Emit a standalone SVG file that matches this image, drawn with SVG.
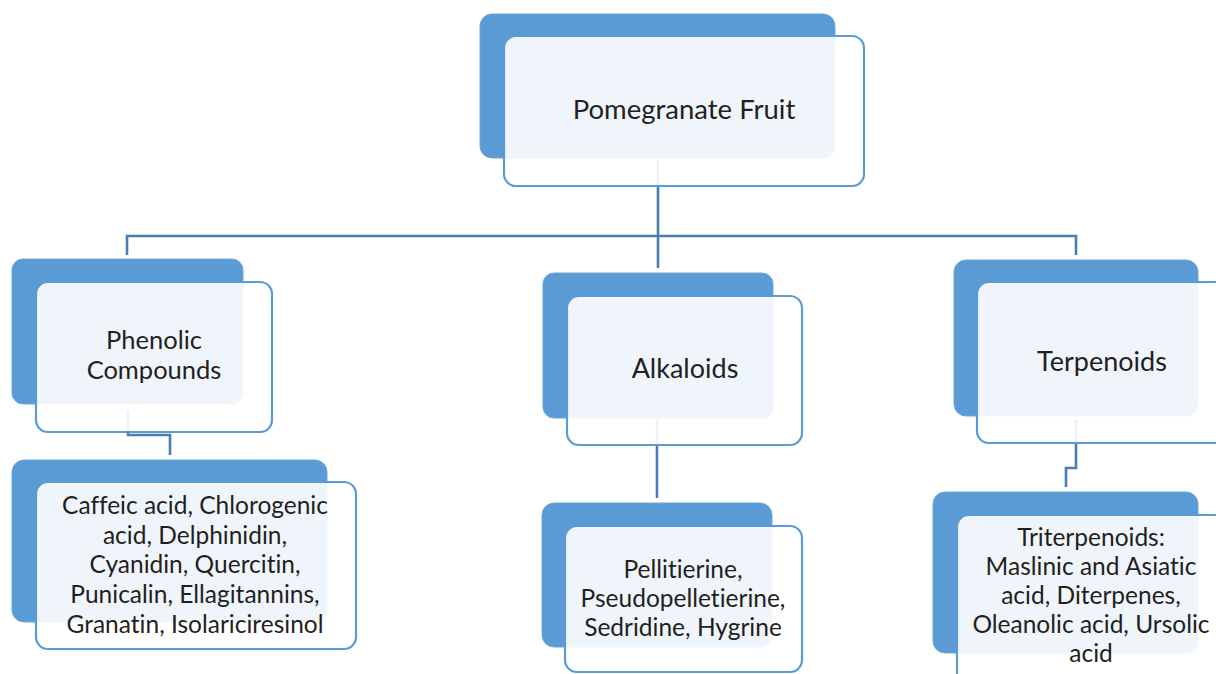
<svg xmlns="http://www.w3.org/2000/svg" width="1216" height="674" viewBox="0 0 1216 674">
<style>
.back{fill:#5B9BD5;stroke:#6FA6DA;stroke-width:1}
.front{fill:#FFFFFF;fill-opacity:0.9;stroke:#5B9BD5;stroke-width:2.2}
.conn{fill:none;stroke:#4A7EB3;stroke-width:2.6}
text{font-family:Lato,"Open Sans","Noto Sans",sans-serif;font-size:24.5px;fill:#231F20;text-anchor:middle;font-variant-ligatures:none}
.l1{font-size:27px}
</style>
<rect width="1216" height="674" fill="#FFFFFF"/>
<g id="connectors">
<path class="conn" d="M658,160 V268"/>
<path class="conn" d="M127,255 V236 H1076 V255"/>
<path class="conn" d="M128,410 V435 H170 V455"/>
<path class="conn" d="M657,420 V498"/>
<path class="conn" d="M1076,420 V468 H1066 V487"/>
</g>
<g id="node-pomegranate">
<rect class="back" x="480" y="14" width="355" height="144" rx="12"/>
<rect class="front" x="504" y="36" width="360" height="150" rx="12"/>
<text x="684" y="119" style="font-size:27.5px">Pomegranate Fruit</text>
</g>
<g id="node-phenolic">
<rect class="back" x="12" y="259" width="231" height="145" rx="11"/>
<rect class="front" x="36" y="282" width="236" height="150" rx="12"/>
<text x="154" y="349" style="font-size:25.5px">Phenolic</text>
<text x="154" y="379" style="font-size:25.5px">Compounds</text>
</g>
<g id="node-alkaloids">
<rect class="back" x="543" y="273" width="230" height="145" rx="11"/>
<rect class="front" x="567" y="296" width="235" height="149" rx="12"/>
<text class="l1" x="685" y="378">Alkaloids</text>
</g>
<g id="node-terpenoids">
<rect class="back" x="954" y="260" width="244" height="156" rx="12"/>
<rect class="front" x="977" y="282" width="250" height="161" rx="12"/>
<text class="l1" x="1102" y="371">Terpenoids</text>
</g>
<g id="node-phenolic-list">
<rect class="back" x="12" y="460" width="315" height="162" rx="12"/>
<rect class="front" x="36" y="482" width="320" height="167" rx="12"/>
<text x="195" y="514">Caffeic acid, Chlorogenic</text>
<text x="195" y="544">acid, Delphinidin,</text>
<text x="195" y="573">Cyanidin, Quercitin,</text>
<text x="195" y="603">Punicalin, Ellagitannins,</text>
<text x="195" y="633">Granatin, Isolariciresinol</text>
</g>
<g id="node-alkaloid-list">
<rect class="back" x="542" y="503" width="230" height="144" rx="12"/>
<rect class="front" x="565" y="526" width="237" height="146" rx="12"/>
<text x="683" y="578">Pellitierine,</text>
<text x="683" y="607">Pseudopelletierine,</text>
<text x="683" y="636">Sedridine, Hygrine</text>
</g>
<g id="node-terpenoid-list">
<rect class="back" x="933" y="492" width="265" height="161" rx="12"/>
<rect class="front" x="957" y="515" width="270" height="175" rx="12"/>
<text x="1091" y="546">Triterpenoids:</text>
<text x="1091" y="575">Maslinic and Asiatic</text>
<text x="1091" y="604">acid, Diterpenes,</text>
<text x="1091" y="633">Oleanolic acid, Ursolic</text>
<text x="1091" y="662">acid</text>
</g>
</svg>
